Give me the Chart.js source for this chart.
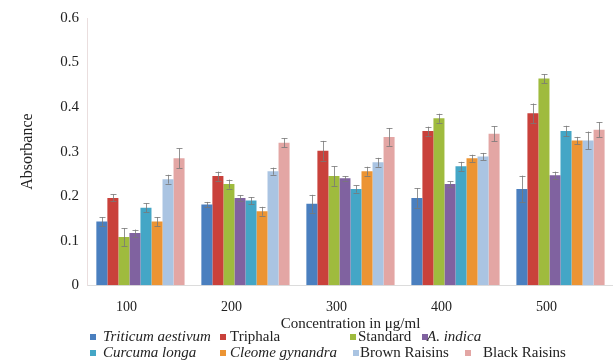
<!DOCTYPE html>
<html>
<head>
<meta charset="utf-8">
<script src="https://cdn.jsdelivr.net/npm/chart.js@4"></script>
<style>
  body { margin: 0; background: #fff; }
  #wrap { position: relative; width: 613px; height: 364px; }
  .lg { position: absolute; font-family: "Times New Roman", "Liberation Serif", "DejaVu Serif", serif; font-size: 15px; color: #222; white-space: nowrap; line-height: 16px; }
  .lg i { font-style: italic; }
  .sq { position: absolute; width: 6px; height: 6px; }
</style>
</head>
<body>
<div id="wrap">
  <canvas id="chart" width="613" height="364"></canvas>
  <div id="legend"></div>
</div>
<script>
const concentrations = ['100', '200', '300', '400', '500'];

const seriesNames = ['Triticum aestivum', 'Triphala', 'Standard', 'A. indica',
  'Curcuma longa', 'Cleome gynandra', 'Brown Raisins', 'Black Raisins'];
const italicNames = [true, false, false, true, true, true, false, false];

const triticum = [0.143, 0.181, 0.183, 0.196, 0.216];
const triphala = [0.196, 0.245, 0.302, 0.346, 0.386];
const standard = [0.108, 0.227, 0.245, 0.375, 0.464];
const aIndica = [0.117, 0.196, 0.240, 0.227, 0.247];
const curcuma = [0.174, 0.190, 0.216, 0.267, 0.346];
const cleome = [0.143, 0.166, 0.256, 0.285, 0.325];
const brownRaisins = [0.238, 0.256, 0.276, 0.289, 0.325];
const blackRaisins = [0.285, 0.320, 0.333, 0.340, 0.349];

const triticumErr = [0.010, 0.006, 0.020, 0.022, 0.030];
const triphalaErr = [0.008, 0.010, 0.022, 0.010, 0.022];
const standardErr = [0.020, 0.010, 0.022, 0.010, 0.010];
const aIndicaErr = [0.008, 0.006, 0.005, 0.006, 0.008];
const curcumaErr = [0.010, 0.008, 0.008, 0.010, 0.012];
const cleomeErr = [0.010, 0.010, 0.010, 0.008, 0.008];
const brownErr = [0.010, 0.008, 0.010, 0.008, 0.020];
const blackErr = [0.022, 0.010, 0.020, 0.017, 0.017];

const yTicks = [0, 0.1, 0.2, 0.3, 0.4, 0.5, 0.6];

const colors = ['#4a7fbf', '#c9413b', '#9fbb3e', '#8062a0', '#44a6c6', '#ec9433', '#aac4e2', '#e3a6a4'];
const values = [triticum, triphala, standard, aIndica, curcuma, cleome, brownRaisins, blackRaisins];
const errors = [triticumErr, triphalaErr, standardErr, aIndicaErr, curcumaErr, cleomeErr, brownErr, blackErr];

// legend layout (marker x, text x, y)
const legendPos = [
  [90, 103, 328], [220, 230, 328], [350, 358, 328], [422, 427, 328],
  [90, 103, 344], [220, 230, 344], [353, 360, 344], [465, 483, 344]
];

const serif = '"Times New Roman", "Liberation Serif", "DejaVu Serif", serif';

const errorBars = {
  id: 'errorBars',
  afterDatasetsDraw(chart) {
    const ctx = chart.ctx;
    const y = chart.scales.y;
    ctx.save();
    ctx.strokeStyle = 'rgba(120,120,120,0.8)';
    ctx.lineWidth = 1;
    chart.data.datasets.forEach((ds, i) => {
      const meta = chart.getDatasetMeta(i);
      meta.data.forEach((bar, j) => {
        const v = ds.data[j];
        const e = ds.errors[j];
        const top = y.getPixelForValue(v + e);
        const bot = y.getPixelForValue(v - e);
        const x = Math.round(bar.x) + 0.5;
        ctx.beginPath();
        ctx.moveTo(x, top);
        ctx.lineTo(x, bot);
        ctx.moveTo(x - 3, Math.round(top) + 0.5);
        ctx.lineTo(x + 3, Math.round(top) + 0.5);
        ctx.moveTo(x - 3, Math.round(bot) + 0.5);
        ctx.lineTo(x + 3, Math.round(bot) + 0.5);
        ctx.stroke();
      });
    });
    ctx.restore();
  }
};

new Chart(document.getElementById('chart'), {
  type: 'bar',
  data: {
    labels: concentrations,
    datasets: seriesNames.map((name, i) => ({
      label: name,
      data: values[i],
      errors: errors[i],
      backgroundColor: colors[i],
      borderWidth: 0,
      categoryPercentage: 0.84,
      barPercentage: 1.0,
    })),
  },
  options: {
    responsive: false,
    animation: false,
    layout: { padding: { top: 2, right: 0, bottom: 31, left: 18 } },
    plugins: {
      legend: { display: false },
      tooltip: { enabled: false },
    },
    scales: {
      x: {
        grid: { display: false, drawTicks: false },
        border: { color: '#dcdcdc' },
        ticks: { font: { family: serif, size: 14 }, color: '#222', padding: 14, labelOffset: -14 },
        title: { display: true, text: 'Concentration in \u03bcg/ml', font: { family: serif, size: 15 }, color: '#222', padding: { top: -15, bottom: 0 } },
      },
      y: {
        min: 0,
        max: 0.6,
        afterBuildTicks: (axis) => { axis.ticks = yTicks.map(v => ({ value: v })); },
        grid: { display: false, drawTicks: false },
        border: { color: '#eadede' },
        ticks: { font: { family: serif, size: 15 }, color: '#222', padding: 9 },
        title: { display: true, text: 'Absorbance', font: { family: serif, size: 16 }, color: '#222', padding: { top: 0, bottom: 14 } },
      },
    },
  },
  plugins: [errorBars],
});

const legend = document.getElementById('legend');
seriesNames.forEach((name, i) => {
  const [mx, tx, ty] = legendPos[i];
  const sq = document.createElement('div');
  sq.className = 'sq';
  sq.style.left = mx + 'px';
  sq.style.top = (ty + 6) + 'px';
  sq.style.background = colors[i];
  legend.appendChild(sq);
  const t = document.createElement('div');
  t.className = 'lg';
  t.style.left = tx + 'px';
  t.style.top = ty + 'px';
  t.innerHTML = italicNames[i] ? '<i>' + name + '</i>' : name;
  legend.appendChild(t);
});
</script>
</body>
</html>
